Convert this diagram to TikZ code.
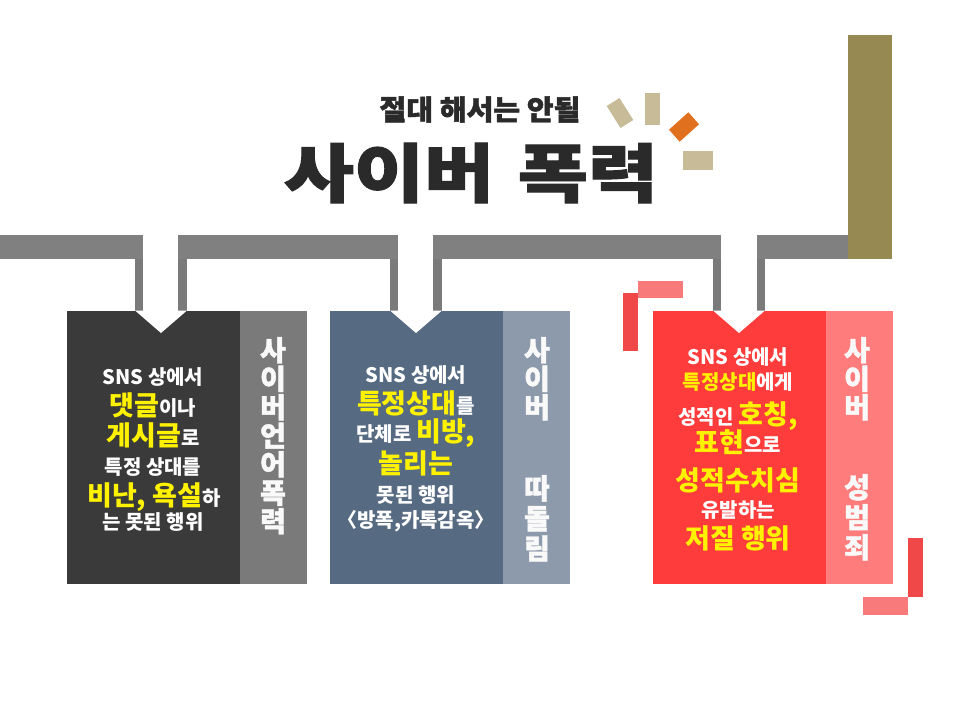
\documentclass[tikz,border=0pt]{standalone}
\usepackage{fontspec}
\newfontfamily\kr{Noto Sans CJK KR}
\newfontfamily\krh[FakeBold=1.5]{Noto Sans CJK KR}
\definecolor{band}{HTML}{808080}
\definecolor{stemc}{HTML}{7A7A7A}
\definecolor{olive}{HTML}{968A52}
\definecolor{tan}{HTML}{C8BC98}
\definecolor{orng}{HTML}{E0701E}
\definecolor{titlec}{HTML}{2A2A2A}
\definecolor{boxA}{HTML}{3A3A3A}
\definecolor{panA}{HTML}{7A7A7A}
\definecolor{boxB}{HTML}{566A82}
\definecolor{panB}{HTML}{8C9AAC}
\definecolor{boxC}{HTML}{FF3C3C}
\definecolor{panC}{HTML}{FF7C7C}
\definecolor{decoR}{HTML}{F04848}
\definecolor{decoP}{HTML}{F87A7A}
\definecolor{hy}{HTML}{FFF200}
\newcommand\yl[1]{{\color{hy}\fontsize{27}{30}\selectfont #1}}
\newcommand\ysm[1]{{\color{hy}#1}}
\tikzset{
  boxnode/.style={inner sep=0pt, outer sep=0pt, anchor=north west, minimum height=273pt},
  ln/.style={anchor=base, inner sep=0pt, text=white, font=\kr\bfseries\fontsize{20}{24}\selectfont},
  side/.style={anchor=north, inner sep=0pt, align=center, text=white!95!gray, font=\krh\bfseries\fontsize{28}{28.5}\selectfont},
}
\begin{document}
\begin{tikzpicture}[x=1pt,y=-1pt]
\useasboundingbox (0,0) rectangle (960,720);
\fill[white] (0,0) rectangle (960,720);

% title
\node[anchor=base, inner sep=0pt, text=titlec, font=\krh\bfseries\fontsize{28}{30}\selectfont] (sub) at (480,120) {\scalebox{1.04}[1]{절대 해서는 안될}};
\node[anchor=base, inner sep=0pt, text=titlec, font=\krh\bfseries\fontsize{64}{70}\selectfont] (title) at (471,197) {\scalebox{1.19}[1]{사이버\hspace{20pt}폭력}};

% title decorations
\fill[tan] (633.3,120) -- (620.5,128) -- (606.7,106) -- (619.5,98) -- cycle;
\fill[tan] (645,93) rectangle (660,125);
\fill[orng] (699,124.3) -- (688.4,112.3) -- (669,129.7) -- (679.6,141.7) -- cycle;
\fill[tan] (683,151) rectangle (713,170);

% olive bar
\fill[olive] (848,35) rectangle (892,259);

% gray band with stems
\fill[band] (0,235) -- (143,235) -- (143,259) -- (0,259) -- cycle;
\fill[stemc] (135,259) rectangle (143,311);
\fill[band] (178,235) -- (398,235) -- (398,259) -- (178,259) -- cycle;
\fill[stemc] (178,259) rectangle (187,311);
\fill[stemc] (390,259) rectangle (398,311);
\fill[band] (433,235) -- (721,235) -- (721,259) -- (433,259) -- cycle;
\fill[stemc] (433,259) rectangle (442,311);
\fill[stemc] (713,259) rectangle (721,311);
\fill[band] (757,235) -- (848,235) -- (848,259) -- (757,259) -- cycle;
\fill[stemc] (757,259) rectangle (765,311);

% red corner decorations
\fill[decoP] (638,281) rectangle (683,298);
\fill[decoR] (623,293) rectangle (638,351);
\fill[decoR] (908,538) rectangle (923,597);
\fill[decoP] (863,597) rectangle (908,615);

% boxes
\node[boxnode, fill=boxA, minimum width=173pt] (b1) at (67,311) {};
\node[boxnode, fill=panA, minimum width=67pt] (p1) at (240,311) {};
\node[boxnode, fill=boxB, minimum width=173pt] (b2) at (330,311) {};
\node[boxnode, fill=panB, minimum width=67pt] (p2) at (503,311) {};
\node[boxnode, fill=boxC, minimum width=173pt] (b3) at (653,311) {};
\node[boxnode, fill=panC, minimum width=67pt] (p3) at (826,311) {};

% arrow notches
\fill[white] (135,310.5) -- (187,310.5) -- (161,333) -- cycle;
\fill[white] (390,310.5) -- (442,310.5) -- (416,333) -- cycle;
\fill[white] (713,310.5) -- (765,310.5) -- (739,333) -- cycle;

% box 1 text
\node[ln] (a1) at (153,384) {SNS 상에서};
\node[ln] (a2) at (153,415) {\yl{댓글}이나};
\node[ln] (a3) at (153,445) {\yl{게시글}로};
\node[ln] (a4) at (153,474) {특정 상대를};
\node[ln] (a5) at (154,505) {\yl{비난, 욕설}하};
\node[ln] (a6) at (153,529) {는 못된 행위};
\node[side] (s1) at (273,337) {사\\이\\버\\언\\어\\폭\\력};

% box 2 text
\node[ln] (c1) at (416,382) {SNS 상에서};
\node[ln] (c2) at (416,413) {\yl{특정상대}를};
\node[ln] (c3) at (416,441) {단체로 \yl{비방,}};
\node[ln] (c4) at (416,473) {\yl{놀리는}};
\node[ln] (c5) at (416,502) {못된 행위};
\node[ln] (c6) at (416,527) {〈방폭,카톡감옥〉};
\node[side] (s2a) at (537,337) {사\\이\\버};
\node[side, font=\krh\bfseries\fontsize{28}{30}\selectfont] (s2b) at (537,475) {따\\돌\\림};

% box 3 text
\node[ln] (d1) at (738,364) {SNS 상에서};
\node[ln] (d2) at (738,389) {\ysm{특정상대}에게};
\node[ln] (d3) at (738,424) {성적인 \yl{호칭,}};
\node[ln] (d4) at (738,452) {\yl{표현}으로};
\node[ln] (d5) at (738,490) {\yl{성적수치심}};
\node[ln] (d6) at (738,517) {유발하는};
\node[ln] (d7) at (738,548) {\yl{저질 행위}};
\node[side] (s3a) at (857,337) {사\\이\\버};
\node[side, font=\krh\bfseries\fontsize{28}{30}\selectfont] (s3b) at (857,474) {성\\범\\죄};
\end{tikzpicture}
\end{document}
